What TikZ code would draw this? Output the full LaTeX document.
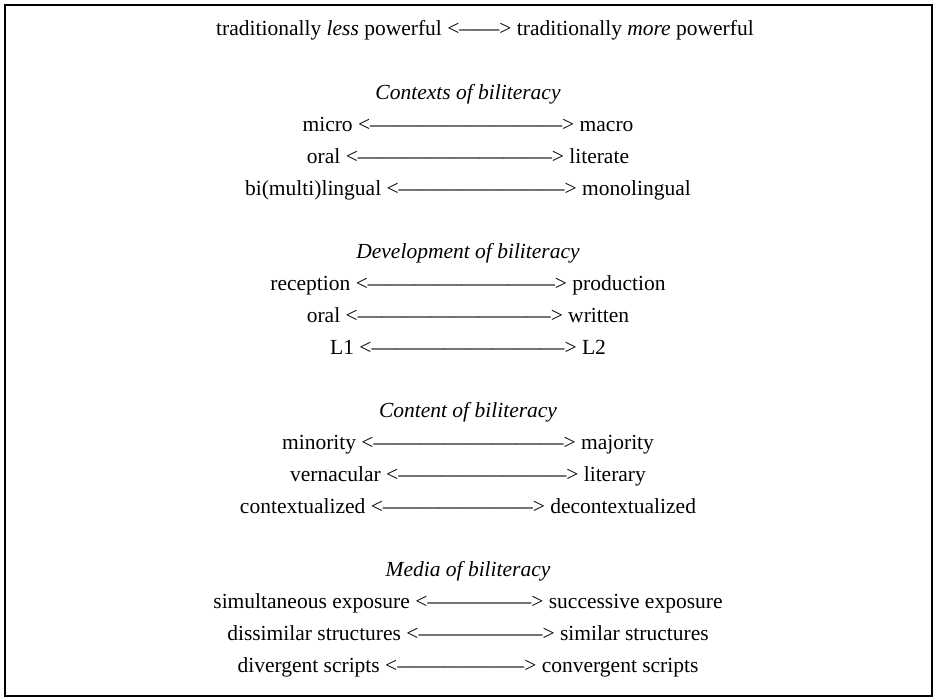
\documentclass[tikz,border=0pt]{standalone}
\usepackage{fontspec}
\usepackage{graphicx}
\setmainfont{Liberation Serif}
\newcommand{\dsh}[2]{\resizebox{#1}{\height}{#2}}
\newcommand{\dd}{\textemdash\textemdash\textemdash\textemdash\textemdash\textemdash\textemdash\textemdash}
\begin{document}
\begin{tikzpicture}[x=1bp,y=-1bp,
  lbl/.style={inner sep=0pt, anchor=base, font=\fontsize{21.5bp}{26bp}\selectfont},
  head/.style={lbl, font=\fontsize{21.5bp}{26bp}\selectfont\itshape}]
\useasboundingbox (0,0) rectangle (937,699);
\draw[line width=2bp] (5,5) rectangle (932,696);
\def\cx{468}
\node[lbl, anchor=base west] (top) at (216,36) {traditionally \textit{less} powerful <\dsh{40bp}{\textemdash\textemdash}> traditionally \textit{more} powerful};
\node[head] (ctx) at (\cx,99.6) {Contexts of biliteracy};
\node[lbl] (c1) at (\cx,131.4) {micro <\dsh{192bp}{\dd}> macro};
\node[lbl] (c2) at (\cx,163.2) {oral <\dsh{194bp}{\dd}> literate};
\node[lbl] (c3) at (\cx,195) {bi(multi)lingual <\dsh{166bp}{\dd}> monolingual};
\node[head] (dev) at (\cx,258.6) {Development of biliteracy};
\node[lbl] (d1) at (\cx,290.4) {reception <\dsh{187bp}{\dd}> production};
\node[lbl] (d2) at (\cx,322.2) {oral <\dsh{193bp}{\dd}> written};
\node[lbl] (d3) at (\cx,354) {L1 <\dsh{193bp}{\dd}> L2};
\node[head] (con) at (\cx,417.6) {Content of biliteracy};
\node[lbl] (n1) at (\cx,449.4) {minority <\dsh{190bp}{\dd}> majority};
\node[lbl] (n2) at (\cx,481.2) {vernacular <\dsh{168bp}{\dd}> literary};
\node[lbl] (n3) at (\cx,513) {contextualized <\dsh{150bp}{\dd}> decontextualized};
\node[head] (med) at (\cx,576.6) {Media of biliteracy};
\node[lbl] (m1) at (\cx,608.4) {simultaneous exposure <\dsh{104bp}{\dd}> successive exposure};
\node[lbl] (m2) at (\cx,640.2) {dissimilar structures <\dsh{124bp}{\dd}> similar structures};
\node[lbl] (m3) at (\cx,672) {divergent scripts <\dsh{127bp}{\dd}> convergent scripts};
\end{tikzpicture}
\end{document}
